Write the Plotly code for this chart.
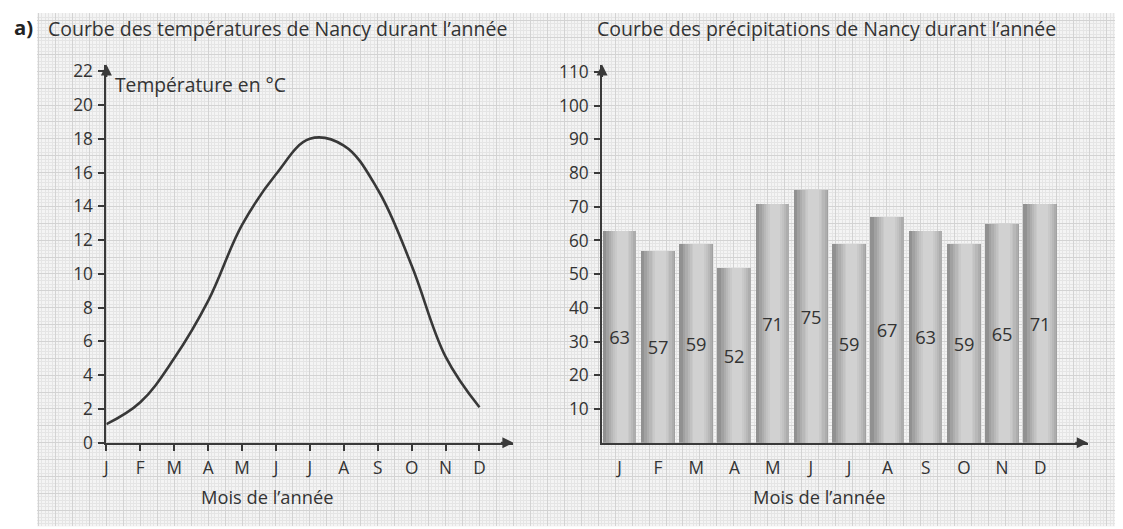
import plotly.graph_objects as go

# ---------------- data ----------------
months = ["J", "F", "M", "A", "M", "J", "J", "A", "S", "O", "N", "D"]
month_pos = list(range(12))
temperatures = [1.1, 2.4, 5.0, 8.4, 12.9, 15.9, 18.0, 17.6, 15.0, 10.5, 5.1, 2.1]
precipitations = [63, 57, 59, 52, 71, 75, 59, 67, 63, 59, 65, 71]
temp_ticks = list(range(0, 23, 2))
precip_ticks = list(range(10, 111, 10))

title_temp = "Courbe des températures de Nancy durant l’année"
title_precip = "Courbe des précipitations de Nancy durant l’année"
temp_label = "Température en °C"
month_label = "Mois de l’année"

# ---------------- page geometry ----------------
# target positions are given in the 1123x529 picture; corrections map them to
# figure pixels (8 px body margin, slightly reduced capture).
W, H = 1123, 537
OFFX, OFFY = 8, 8
SX, SY = 0.993, 0.975


def fx(x):          # screen px -> figure px
    return (x - 5.0) / SX - OFFX


def fy(y):
    return (y * 1.0065 - 6.7) / SY - OFFY


def px(x):
    return min(max(fx(x) / W, 0), 1)


def py(y):
    return min(max(1 - fy(y) / H, 0), 1)


FONT = "Open Sans"
TXT = "#333333"
AX = "#3a3a3a"
FS = 1.015          # font compensation

Y0 = 443.5          # screen row of value 0
TUNIT = 16.86       # screen px per degree
Y_TOP = Y0 - 22.4 * TUNIT
Y_DOM = [py(Y0), py(Y_TOP)]
XL0, XSTEP = 107.0, 33.8

fig = go.Figure()

# --------- background graph paper (subplot xy, drawn first) ---------
GX0, GX1, GY0, GY1 = 38, 1120, 3, 527
fig.add_trace(go.Scatter(x=[GX0, GX1], y=[GY1, GY0], mode="markers",
                         marker=dict(opacity=0), hoverinfo="skip",
                         showlegend=False, xaxis="x", yaxis="y"))

# --------- temperature curve ---------
fig.add_trace(go.Scatter(x=month_pos, y=temperatures, mode="lines",
                         line=dict(color="#383838", width=2.6, shape="spline", smoothing=1.1),
                         showlegend=False, xaxis="x2", yaxis="y2"))

# --------- precipitation bars with cylindrical shading ---------
BW = 0.88
T_L, T_R = 0.45, 0.70          # plateau of the highlight
F_L, F_P, F_R = 0.57, 0.84, 0.67
levels = [0.57, 0.63, 0.68, 0.72, 0.76, 0.79, 0.82]
for L in levels:
    tl = T_L * (L - F_L) / (F_P - F_L)
    tr = 1.0 if L <= F_R else T_R + (1 - T_R) * (F_P - L) / (F_P - F_R)
    g = int(round(255 * L))
    fig.add_trace(go.Bar(x=month_pos, y=precipitations,
                         width=BW * (tr - tl), offset=-BW / 2 + BW * tl,
                         marker=dict(color=f"rgb({g},{g},{g})", line=dict(width=0)),
                         showlegend=False, hoverinfo="skip",
                         xaxis="x3", yaxis="y3"))
# value labels
fig.add_trace(go.Bar(x=month_pos, y=precipitations, width=BW,
                     marker=dict(color="rgba(0,0,0,0)", line=dict(width=0)),
                     text=[str(v) for v in precipitations], textposition="inside",
                     insidetextanchor="middle", textangle=0,
                     textfont=dict(family=FONT, size=18 * FS, color=TXT),
                     showlegend=False, xaxis="x3", yaxis="y3"))

common_axis = dict(showgrid=False, zeroline=False, showline=True, linecolor=AX,
                   linewidth=2, tickcolor=AX, tickwidth=1.5,
                   tickfont=dict(family=FONT, size=17 * FS, color=TXT))

MAJ, MIN = "#d3d3d3", "#e5e5e5"
bg_y_top = GY0 if fy(GY0) >= 0 else (OFFY * SY + 6.7) / 1.0065
fig.update_layout(
    width=W, height=H,
    margin=dict(l=0, r=0, t=0, b=0),
    paper_bgcolor="white",
    plot_bgcolor="rgba(0,0,0,0)",
    barmode="overlay",
    bargap=0,
    showlegend=False,
    xaxis=dict(domain=[px(GX0), px(GX1)], range=[GX0, GX1], anchor="y",
               showticklabels=False, ticks="", zeroline=False, showline=False,
               tick0=XL0, dtick=XSTEP / 2, showgrid=True, gridcolor=MAJ, gridwidth=1,
               minor=dict(tick0=XL0, dtick=XSTEP / 10, showgrid=True, gridcolor=MIN,
                          gridwidth=1, ticks="")),
    yaxis=dict(domain=[py(GY1), py(bg_y_top)], range=[GY1, bg_y_top], anchor="x",
               showticklabels=False, ticks="", zeroline=False, showline=False,
               tick0=Y0, dtick=TUNIT, showgrid=True, gridcolor=MAJ, gridwidth=1,
               minor=dict(tick0=Y0, dtick=TUNIT / 5, showgrid=True, gridcolor=MIN,
                          gridwidth=1, ticks="")),
    xaxis2=dict(domain=[px(XL0), px(XL0 + 12 * XSTEP)], range=[0, 12], anchor="y2",
                tickmode="array", tickvals=month_pos, ticktext=months,
                ticks="outside", ticklen=6, ticklabelstandoff=3, **common_axis),
    yaxis2=dict(domain=Y_DOM, range=[0, 22.4], anchor="x2",
                tickmode="array", tickvals=temp_ticks,
                ticks="outside", ticklen=6, ticklabelstandoff=2, **common_axis),
    xaxis3=dict(domain=[px(601), px(1085)], range=[-0.46, 12.24], anchor="y3",
                tickmode="array", tickvals=month_pos, ticktext=months,
                ticks="", ticklabelstandoff=9, **common_axis),
    yaxis3=dict(domain=Y_DOM, range=[0, 112.2], anchor="x3",
                tickmode="array", tickvals=precip_ticks,
                ticks="outside", ticklen=6, ticklabelstandoff=2, **common_axis),
)

# grey paper fill below the grid
fig.add_shape(type="rect", xref="paper", yref="paper",
              x0=px(GX0), x1=px(GX1), y0=py(GY1), y1=py(bg_y_top),
              fillcolor="#f4f4f4", line=dict(width=0), layer="below")

# axis arrows
arrow = dict(text="", showarrow=True, arrowhead=2, arrowsize=1.1, arrowwidth=2,
             arrowcolor=AX)
fig.add_annotation(x=12, y=0, xref="x2", yref="y2", ax=-14, ay=0, **arrow)
fig.add_annotation(x=0, y=22.4, xref="x2", yref="y2", ax=0, ay=14, **arrow)
fig.add_annotation(x=12.24, y=0, xref="x3", yref="y3", ax=-14, ay=0, **arrow)
fig.add_annotation(x=-0.46, y=112.2, xref="x3", yref="y3", ax=0, ay=14, **arrow)


# texts
def label(text, x, y, size, xanchor="center", yanchor="middle", bold=False, color=TXT):
    fig.add_annotation(text=f"<b>{text}</b>" if bold else text,
                       x=px(x), y=py(y) if y is not None else 1.0,
                       xref="paper", yref="paper",
                       xanchor=xanchor, yanchor=yanchor, showarrow=False,
                       borderpad=0, borderwidth=0,
                       font=dict(family=FONT, size=size * FS, color=color))


# "a)" is pinned to the top edge of the figure so that it is not clipped
label("a)", 14.5, None, 20, xanchor="left", yanchor="top", bold=True, color="#222222")
label(title_temp, 49, 30, 19.2, xanchor="left")
label(title_precip, 596, 30, 19.2, xanchor="left")
label(temp_label, 116, 86, 19, xanchor="left")
label(month_label, 267, 497, 18)
label(month_label, 817, 497, 18)

fig.write_html("out.html")
